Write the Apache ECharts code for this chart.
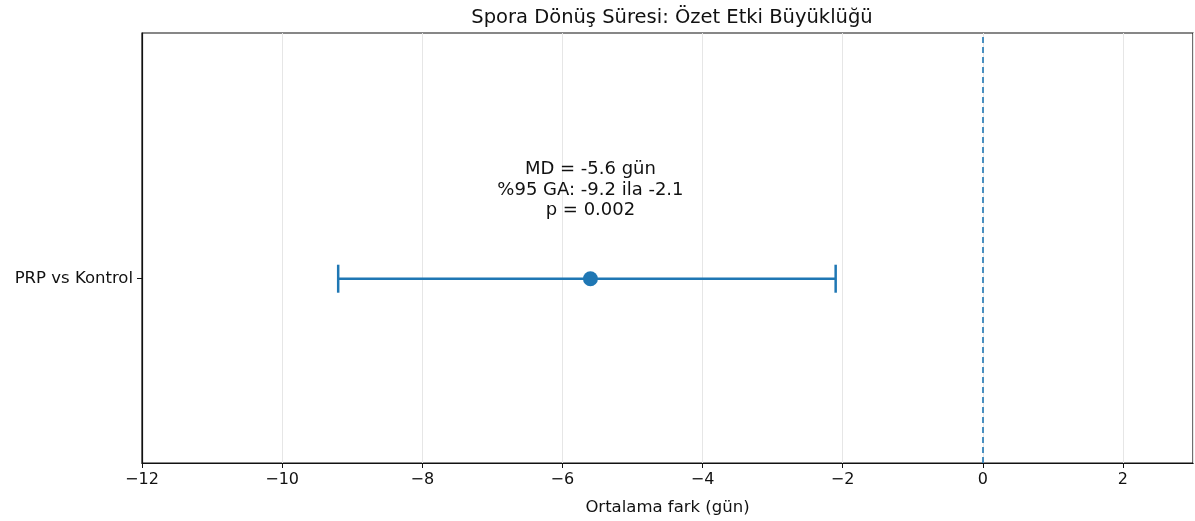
<!DOCTYPE html>
<html>
<head>
<meta charset="utf-8">
<script src="https://cdn.jsdelivr.net/npm/echarts@6/dist/echarts.min.js"></script>
<style>
    html, body { margin: 0; padding: 0; background: #fff; }
    #chart { width: 1195px; height: 521px; }
</style>
</head>
<body>
<div id="chart"></div>
<script>
// veriler
var comparisons = [ 'PRP vs Kontrol' ];
var meanDiff = [ -5.6 ];
var ciLow = [ -9.2 ];
var ciHigh = [ -2.1 ];
var noteLines = [ 'MD = -5.6 gün', '%95 GA: -9.2 ila -2.1', 'p = 0.002' ];
var noteY = 0.36;

var blue = '#1f77b4';
var font = 'DejaVu Sans';

var chart = echarts.init(document.getElementById('chart'));

// hata çubuğu verisi: [düşük, yüksek, y]
var barData = [];
for (var i = 0; i < comparisons.length; i++) {
    barData.push([ ciLow[i], ciHigh[i], -i ]);
}

var option = {
    animation : false,
    title : {
        text : 'Spora Dönüş Süresi: Özet Etki Büyüklüğü',
        left : 667,
        textAlign : 'center',
        top : 3,
        textStyle : { fontFamily : font, fontSize : 19.5, fontWeight : 'normal', color : '#111' }
    },
    grid : {
        left : 142,
        right : 2,
        top : 33,
        bottom : 58,
        show : true,
        borderColor : '#111',
        borderWidth : 1.2
    },
    xAxis : {
        type : 'value',
        min : -12,
        max : 3,
        interval : 2,
        name : 'Ortalama fark (gün)',
        nameLocation : 'middle',
        nameGap : 36,
        nameTextStyle : { fontFamily : font, fontSize : 16.5, color : '#111' },
        axisLine : { show : true, onZero : false, lineStyle : { color : '#111', width : 1.2 } },
        axisTick : { show : true, length : 5, lineStyle : { color : '#111' } },
        axisLabel : {
            fontFamily : font, fontSize : 16, color : '#111', margin : 9,
            showMaxLabel : false,
            formatter : function(v) { return String(v).replace('-', '\u2212'); }
        },
        splitLine : { show : true, lineStyle : { color : '#e6e6e6', width : 1 } }
    },
    yAxis : {
        type : 'value',
        min : -0.75,
        max : 1,
        axisLine : { show : true, onZero : false, lineStyle : { color : '#111', width : 1.2 } },
        axisTick : { show : true, length : 5, customValues : [ 0 ], lineStyle : { color : '#111' } },
        axisLabel : {
            fontFamily : font, fontSize : 16.5, color : '#111', margin : 9,
            customValues : [ 0 ],
            formatter : function(v) { return Math.abs(v) < 1e-9 ? comparisons[0] : ''; }
        },
        splitLine : { show : false }
    },
    series : [ {
        type : 'custom',
        data : barData,
        renderItem : function(params, api) {
            var p1 = api.coord([ api.value(0), api.value(2) ]);
            var p2 = api.coord([ api.value(1), api.value(2) ]);
            var cap = 14;
            var st = { stroke : blue, lineWidth : 2.5 };
            return {
                type : 'group',
                children : [
                    { type : 'line', shape : { x1 : p1[0], y1 : p1[1], x2 : p2[0], y2 : p2[1] }, style : st },
                    { type : 'line', shape : { x1 : p1[0], y1 : p1[1] - cap, x2 : p1[0], y2 : p1[1] + cap }, style : st },
                    { type : 'line', shape : { x1 : p2[0], y1 : p2[1] - cap, x2 : p2[0], y2 : p2[1] + cap }, style : st }
                ]
            };
        },
        markLine : {
            silent : true,
            symbol : 'none',
            label : { show : false },
            lineStyle : { color : blue, type : [ 6, 4 ], width : 1.6, opacity : 1 },
            data : [ { xAxis : 0 } ]
        },
        z : 2
    }, {
        type : 'scatter',
        data : meanDiff.map(function(v, i) { return [ v, -i ]; }),
        symbolSize : 15,
        itemStyle : { color : blue, opacity : 1 },
        z : 3
    }, {
        type : 'scatter',
        data : [ [ meanDiff[0], noteY ] ],
        symbolSize : 0,
        silent : true,
        itemStyle : { opacity : 1 },
        label : {
            show : true,
            position : 'inside',
            formatter : noteLines.join('\n'),
            fontFamily : font,
            fontSize : 18,
            lineHeight : 20.5,
            color : '#111',
            opacity : 1,
            textBorderWidth : 0,
            align : 'center'
        },
        z : 4
    } ]
};
chart.setOption(option);
</script>
</body>
</html>
